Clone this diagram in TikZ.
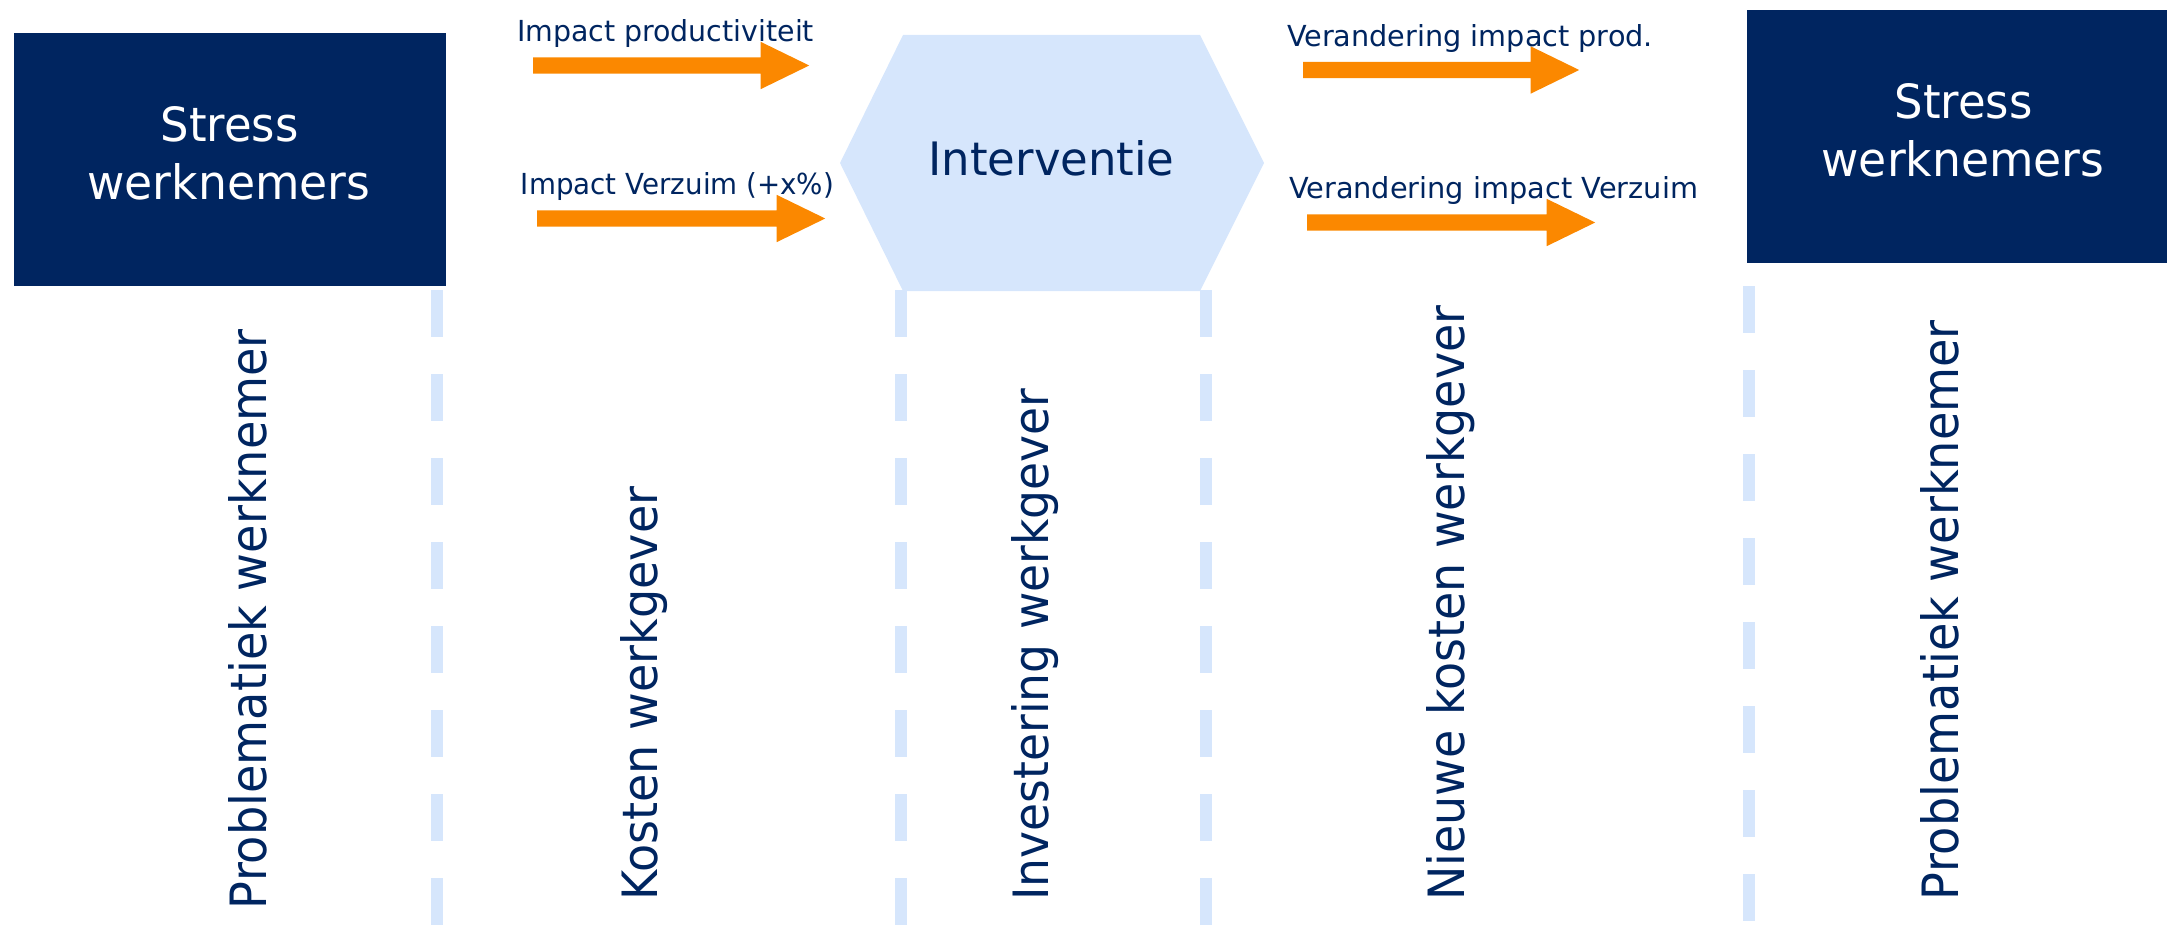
\documentclass[tikz,border=0pt]{standalone}
\usepackage{fontspec}
\setmainfont{DejaVu Sans}
\usepackage{graphicx}
\usetikzlibrary{shapes.arrows}
\definecolor{navy}{RGB}{0,37,96}
\definecolor{paleblue}{RGB}{214,230,252}
\definecolor{arroworange}{RGB}{251,136,0}
\newcommand{\fitt}[3]{\resizebox{#1pt}{#2pt}{#3}}
\begin{document}
\begin{tikzpicture}[x=1pt,y=-1pt,
  darkbox/.style={fill=navy, draw=none, inner sep=0pt},
  boxtext/.style={anchor=base, inner sep=0pt, text=white, font=\fontsize{30}{36}\selectfont},
  navytext/.style={anchor=base, inner sep=0pt, text=navy, font=\fontsize{30}{36}\selectfont},
  vtext/.style={navytext, rotate=90},
  fatarrow/.style={single arrow, fill=arroworange, draw=none, inner xsep=0pt, inner ysep=8pt,
    single arrow head extend=15.5pt, single arrow tip angle=52, anchor=tail},
  sepline/.style={draw=paleblue, line width=12pt, dash pattern=on 47pt off 37pt}]
\useasboundingbox (0,0) rectangle (2167,925);
% separators
\draw[sepline] (437,290) coordinate (d1t) -- (437,925) coordinate (d1b);
\draw[sepline] (901,290) coordinate (d2t) -- (901,925) coordinate (d2b);
\draw[sepline] (1205.5,290) coordinate (d3t) -- (1205.5,925) coordinate (d3b);
\draw[sepline] (1749,286) coordinate (d4t) -- (1749,925) coordinate (d4b);
% boxes
\node[darkbox, minimum width=432pt, minimum height=253pt] (s1) at (230,159.5) {};
\node[darkbox, minimum width=420pt, minimum height=253pt] (s2) at (1957,136.5) {};
\node[boxtext] (s1a) at (229.5,142) {\fitt{138}{35}{Stress}};
\node[boxtext] (s1b) at (229,200) {\fitt{283}{36}{werknemers}};
\node[boxtext] (s2a) at (1963.5,119) {\fitt{138}{35}{Stress}};
\node[boxtext] (s2b) at (1963,177) {\fitt{283}{36}{werknemers}};
% hexagon
\fill[paleblue] (840,163) coordinate (hl) -- (903,35) -- (1200,35) -- (1264,163) coordinate (hr) -- (1200,291) -- (903,291) -- cycle;
\node[navytext] (interv) at (1051.5,176) {\fitt{246}{35}{Interventie}};
% arrows
\node[fatarrow, minimum height=276pt] (a1) at (533,65.5) {};
\node[fatarrow, minimum height=288pt] (a2) at (537,218.5) {};
\node[fatarrow, minimum height=276pt] (a3) at (1303,70) {};
\node[fatarrow, minimum height=288pt] (a4) at (1307,222.5) {};
% arrow labels
\node[navytext] (l1) at (665.5,42) {\fitt{297}{22}{Impact productiviteit}};
\node[navytext] (l2) at (677.5,195) {\fitt{313}{22}{Impact Verzuim (+x\%)}};
\node[navytext] (l3) at (1470,47) {\fitt{366}{22}{Verandering impact prod.}};
\node[navytext] (l4) at (1493.5,199) {\fitt{409}{22}{Verandering impact Verzuim}};
% vertical labels
\node[vtext] (v1) at (266,619) {\fitt{580}{38}{Problematiek werknemer}};
\node[vtext] (v2) at (657,693.5) {\fitt{414}{37}{Kosten werkgever}};
\node[vtext] (v3) at (1048,644.5) {\fitt{512}{37}{Investering werkgever}};
\node[vtext] (v4) at (1464,603) {\fitt{595}{38}{Nieuwe kosten werkgever}};
\node[vtext] (v5) at (1958,610) {\fitt{580}{38}{Problematiek werknemer}};
\end{tikzpicture}
\end{document}
